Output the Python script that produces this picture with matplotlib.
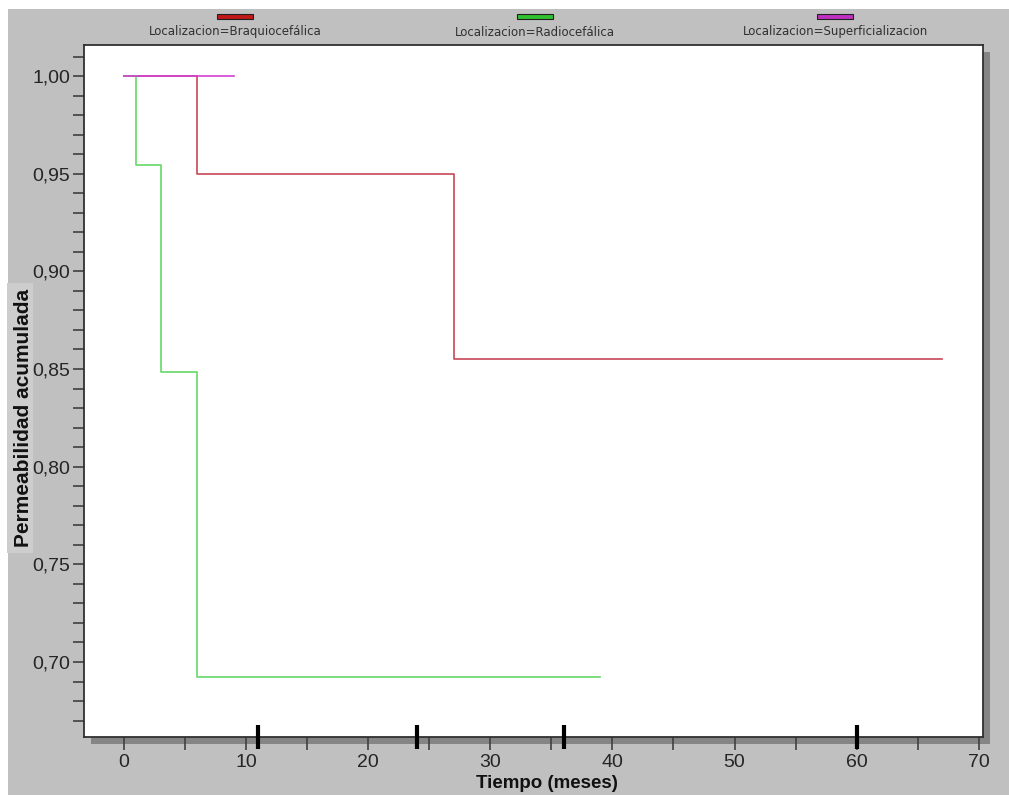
import matplotlib
matplotlib.use("Agg")
import matplotlib.pyplot as plt
from matplotlib.patches import Rectangle
from matplotlib.ticker import MultipleLocator, FuncFormatter

# ---- data ----
braq_t = [0, 6, 27, 67]
braq_s = [1.0, 0.95, 0.855, 0.855]
radio_t = [0, 1, 3, 6, 39]
radio_s = [1.0, 0.9545, 0.8485, 0.6923, 0.6923]
super_t = [0, 9]
super_s = [1.0, 1.0]
marker_times = [11, 24, 36, 60]
legend_labels = ["Localizacion=Braquiocefálica", "Localizacion=Radiocefálica",
                 "Localizacion=Superficializacion"]
colors = ["#c84858", "#66d866", "#d040d0"]
legend_colors = ["#c01818", "#30c030", "#c030c0"]

plt.rcParams['font.family'] = ['Liberation Sans', 'DejaVu Sans']

W, H = 1009, 795
fig = plt.figure(figsize=(W / 100, H / 100), dpi=100)
fig.patch.set_facecolor("white")

# gray background panel
fig.patches.append(Rectangle((8 / W, 0), 1 - 8 / W, 1 - 9 / H, transform=fig.transFigure,
                             facecolor="#c0c0c0", edgecolor="none", zorder=-10))
# lighter box behind y label
fig.patches.append(Rectangle((7 / W, 1 - 553 / H), 26 / W, 270 / H, transform=fig.transFigure,
                             facecolor="#cdcdcd", edgecolor="none", zorder=-9))

L, R, T, B = 84.3, 983, 45, 737
ax_pos = [L / W, 1 - B / H, (R - L) / W, (B - T) / H]
# shadow
fig.patches.append(Rectangle(((L + 7) / W, 1 - (B + 7) / H), (R - L) / W, (B - T) / H,
                             transform=fig.transFigure, facecolor="#858585",
                             edgecolor="none", zorder=-5))
ax = fig.add_axes(ax_pos)
ax.set_facecolor("white")

ax.step(braq_t, braq_s, where="post", color=colors[0], lw=1.2, zorder=3)
ax.step(radio_t, radio_s, where="post", color=colors[1], lw=1.2, zorder=3)
ax.step(super_t, super_s, where="post", color=colors[2], lw=1.2, zorder=4)

ax.vlines(marker_times, -0.018, 0.018, transform=ax.get_xaxis_transform(),
          color="black", lw=3, clip_on=False, zorder=6)

ax.set_xlim(-3.25, 70.35)
ax.set_ylim(0.6616, 1.0159)
ax.xaxis.set_major_locator(MultipleLocator(10))
ax.xaxis.set_minor_locator(MultipleLocator(5))
ax.yaxis.set_major_locator(MultipleLocator(0.05))
ax.yaxis.set_minor_locator(MultipleLocator(0.01))
ax.yaxis.set_major_formatter(FuncFormatter(lambda v, p: f"{v:.2f}".replace(".", ",")))
ax.tick_params(axis="both", which="both", direction="out", color="#404040", width=1.2,
               labelsize=14, labelcolor="#252525")
ax.tick_params(axis="x", which="both", length=9, pad=3)
ax.tick_params(axis="y", which="both", length=8, pad=2)
for s in ax.spines.values():
    s.set_color("#303030")
    s.set_linewidth(1.3)

ax.set_xlabel("Tiempo (meses)", fontsize=13.5, fontweight="bold", color="#111111")
ax.set_ylabel("Permeabilidad acumulada", fontsize=15, fontweight="bold", color="#111111")
ax.xaxis.set_label_coords((547 - L) / (R - L), (B - 775) / (B - T))
ax.yaxis.set_label_coords((33 - L) / (R - L), (B - 418) / (B - T))

# legend
centers = [235, 535, 835]
for cx, lab, c in zip(centers, legend_labels, legend_colors):
    fig.patches.append(Rectangle(((cx - 18) / W, 1 - 19 / H), 36 / W, 5 / H,
                                 transform=fig.transFigure, facecolor=c,
                                 edgecolor="#202020", lw=0.8))
    fig.text(cx / W, 1 - 32 / H, lab, ha="center", va="center", fontsize=8.5,
             family=["DejaVu Sans"], color="#303030")

fig.savefig("out.png", dpi=100)
